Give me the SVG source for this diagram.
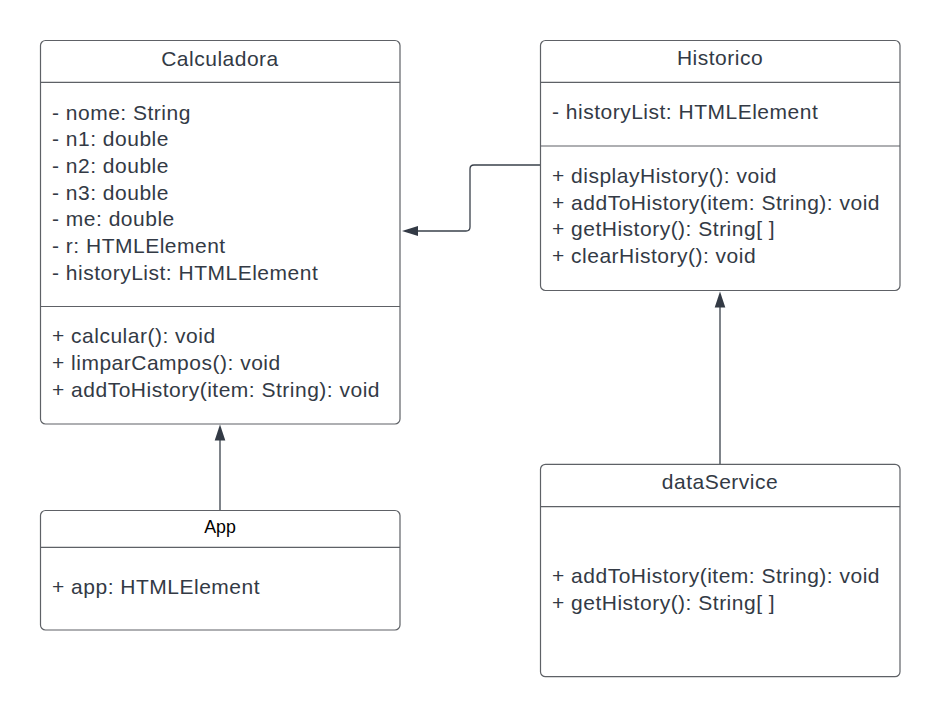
<svg xmlns="http://www.w3.org/2000/svg" width="940" height="717" viewBox="0 0 940 717">
<style>
.box{fill:#ffffff;stroke:#5e6166;stroke-width:1.2}
.div{stroke:#5e6166;stroke-width:1.2}
.t{font-family:"Liberation Sans",Arial,sans-serif;font-size:21px;letter-spacing:0.5px;fill:#333a45}
.c{text-anchor:middle}
.app{font-family:"Liberation Sans",Arial,sans-serif;font-size:17.8px;fill:#000000;text-anchor:middle}
.conn{fill:none;stroke:#3a414b;stroke-width:1.3}
.head{fill:#333a45;stroke:none}
</style>
<rect width="940" height="717" fill="#ffffff"/>
<g id="connectors">
  <path class="conn" d="M540,165 H474 Q470,165 470,169 V227 Q470,231 466,231 H416"/>
  <polygon class="head" points="402,231 418,226 418,236"/>
  <path class="conn" d="M220,510 V438"/>
  <polygon class="head" points="220,424.5 214.7,440.5 225.3,440.5"/>
  <path class="conn" d="M720,464 V306"/>
  <polygon class="head" points="720,291.5 714.7,307.5 725.3,307.5"/>
</g>
<g id="Calculadora">
  <rect class="box" x="40.5" y="40.5" width="359.5" height="383.5" rx="5"/>
  <line class="div" x1="40.5" y1="82.3" x2="400" y2="82.3"/>
  <line class="div" x1="40.5" y1="306.5" x2="400" y2="306.5"/>
  <text class="t c" x="220" y="66">Calculadora</text>
  <text class="t" x="52" y="119.5">- nome: String</text>
  <text class="t" x="52" y="146.2">- n1: double</text>
  <text class="t" x="52" y="172.9">- n2: double</text>
  <text class="t" x="52" y="199.6">- n3: double</text>
  <text class="t" x="52" y="226.3">- me: double</text>
  <text class="t" x="52" y="253">- r: HTMLElement</text>
  <text class="t" x="52" y="279.7">- historyList: HTMLElement</text>
  <text class="t" x="52" y="343.3">+ calcular(): void</text>
  <text class="t" x="52" y="370">+ limparCampos(): void</text>
  <text class="t" x="52" y="396.7">+ addToHistory(item: String): void</text>
</g>
<g id="Historico">
  <rect class="box" x="540.5" y="40.5" width="359.5" height="250" rx="5"/>
  <line class="div" x1="540.5" y1="82.3" x2="900" y2="82.3"/>
  <line class="div" x1="540.5" y1="146" x2="900" y2="146"/>
  <text class="t c" x="720" y="65">Historico</text>
  <text class="t" x="552" y="119.3">- historyList: HTMLElement</text>
  <text class="t" x="552" y="183">+ displayHistory(): void</text>
  <text class="t" x="552" y="209.7">+ addToHistory(item: String): void</text>
  <text class="t" x="552" y="236.4">+ getHistory(): String[ ]</text>
  <text class="t" x="552" y="263.1">+ clearHistory(): void</text>
</g>
<g id="App">
  <rect class="box" x="40.5" y="510.5" width="359.5" height="119.5" rx="5"/>
  <line class="div" x1="40.5" y1="547.3" x2="400" y2="547.3"/>
  <text class="app" x="220" y="532.7">App</text>
  <text class="t" x="52" y="594.3">+ app: HTMLElement</text>
</g>
<g id="dataService">
  <rect class="box" x="540.5" y="464.3" width="359.5" height="212.4" rx="5"/>
  <line class="div" x1="540.5" y1="506.7" x2="900" y2="506.7"/>
  <text class="t c" x="720" y="489.3">dataService</text>
  <text class="t" x="552" y="583.3">+ addToHistory(item: String): void</text>
  <text class="t" x="552" y="610">+ getHistory(): String[ ]</text>
</g>
</svg>
